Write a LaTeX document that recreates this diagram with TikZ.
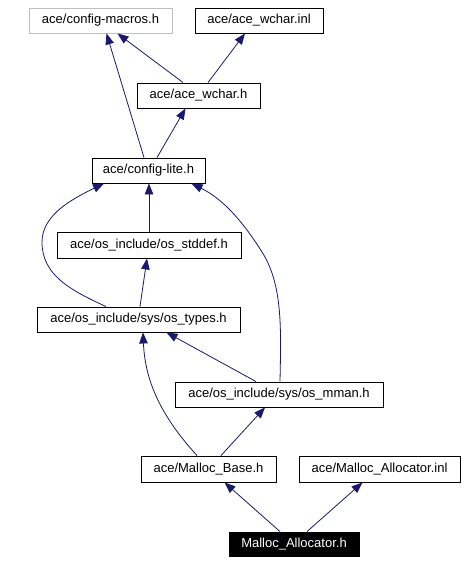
\documentclass[tikz,border=0pt]{standalone}
\usepackage{fontspec}
\setmainfont{Liberation Sans}
\usetikzlibrary{arrows.meta}
\definecolor{edgeblue}{RGB}{25,25,112}
\definecolor{boxgray}{RGB}{191,191,191}
\tikzset{
  filebox/.style={draw=black, line width=0.9pt, inner sep=0pt, minimum height=25pt,
    font=\fontsize{13}{15}\selectfont, fill=white},
  dep/.style={draw=edgeblue, line width=0.8pt, -{Triangle[length=11pt,width=8.5pt]}, edgeblue},
}
\begin{document}
\begin{tikzpicture}[x=1pt,y=-1pt]
\useasboundingbox[fill=white] (0,0) rectangle (465,563);
\node[filebox, draw=boxgray, minimum width=143pt] (cm) at (100.5,20.5) {ace/config-macros.h};
\node[filebox, minimum width=128pt] (wi) at (259,20.5) {ace/ace\_wchar.inl};
\node[filebox, minimum width=123pt] (wh) at (198.5,95.5) {ace/ace\_wchar.h};
\node[filebox, minimum width=113pt] (cl) at (148.5,170.5) {ace/config-lite.h};
\node[filebox, minimum width=184pt, minimum height=26pt] (sd) at (149,245) {ace/os\_include/os\_stddef.h};
\node[filebox, minimum width=203pt] (ty) at (138.5,319.5) {ace/os\_include/sys/os\_types.h};
\node[filebox, minimum width=208pt] (mm) at (279,394.5) {ace/os\_include/sys/os\_mman.h};
\node[filebox, minimum width=135pt, minimum height=26pt] (mb) at (208.5,469) {ace/Malloc\_Base.h};
\node[filebox, minimum width=161pt, minimum height=26pt] (mi) at (379.5,469) {ace/Malloc\_Allocator.inl};
\node[filebox, fill=black, text=white, minimum width=130pt, minimum height=24pt] (ma) at (294,544) {Malloc\_Allocator.h};

\draw[dep] ([xshift=-15.5pt]wh.north) -- ([xshift=17pt]cm.south);
\draw[dep] ([xshift=9.5pt]wh.north) -- ([xshift=-14pt]wi.south);
\draw[dep] ([xshift=-4.5pt]cl.north) -- ([xshift=6pt]cm.south);
\draw[dep] ([xshift=8.5pt]cl.north) -- ([xshift=-13pt]wh.south);
\draw[dep] (sd.north) -- (sd.north |- cl.south);
\draw[dep] ([xshift=-32.5pt]ty.north) .. controls (70,290) and (42,275) .. (42,242)
  .. controls (42,215) and (72,199) .. ([xshift=-44.5pt]cl.south);
\draw[dep] ([xshift=1pt]mm.north) .. controls (281,330) and (283,285) .. (262,252)
  .. controls (245,225) and (225,200) .. ([xshift=43pt]cl.south);
\draw[dep] ([xshift=1.5pt]ty.north) -- ([xshift=-2pt]sd.south);
\draw[dep] ([xshift=-23pt]mm.north) -- ([xshift=28pt]ty.south);
\draw[dep] ([xshift=-11.5pt]mb.north) .. controls (160,415) and (145,380) .. ([xshift=4.5pt]ty.south);
\draw[dep] ([xshift=12.5pt]mb.north) -- ([xshift=-14pt]mm.south);
\draw[dep] ([xshift=-14pt]ma.north) -- ([xshift=16pt]mb.south);
\draw[dep] ([xshift=13pt]ma.north) -- ([xshift=-17pt]mi.south);
\end{tikzpicture}
\end{document}
